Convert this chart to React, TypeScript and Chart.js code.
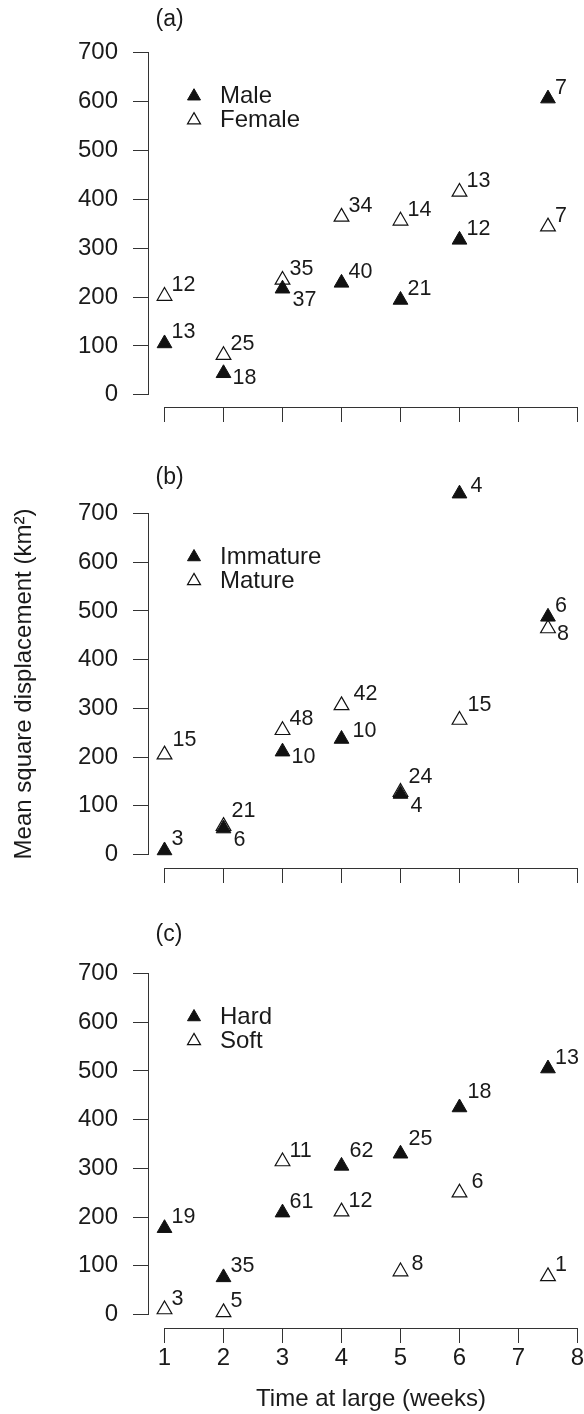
import React, { useEffect, useRef } from 'react';
import { Chart, registerables } from 'chart.js';

Chart.register(...registerables);

const FONT = '"Liberation Sans", Arial, Helvetica, sans-serif';
const TEXT = '#1a1a1a';
const AXIS = '#333333';
Chart.defaults.font.family = FONT;
Chart.defaults.color = TEXT;

// ---------- data ----------
const weeks = [1, 2, 3, 4, 5, 6, 7.5];
const xTickValues = [1, 2, 3, 4, 5, 6, 7, 8];
const yTickValues = [0, 100, 200, 300, 400, 500, 600, 700];

// Panel (a)
const maleMsd = [105, 44, 217, 229, 194, 317, 606];
const femaleMsd = [202, 81, 235, 364, 356, 415, 344];
const maleN = [13, 18, 37, 40, 21, 12, 7];
const femaleN = [12, 25, 35, 34, 14, 13, 7];
const maleLabelSide = ['ne', 'se', 'sse', 'ne', 'ne', 'ne', 'ne'];
const femaleLabelSide = ['ne', 'ne', 'ne', 'ne', 'ne', 'ne', 'ne'];

// Panel (b)
const immatureMsd = [8, 53, 211, 237, 124, 741, 488];
const matureMsd = [205, 58, 255, 306, 128, 276, 464];
const immatureN = [3, 6, 10, 10, 4, 4, 6];
const matureN = [15, 21, 48, 42, 24, 15, 8];
const immatureLabelSide = ['ne', 'sse', 'se', 'e', 'sse', 'e', 'ne'];
const matureLabelSide = ['nne', 'nne', 'ne', 'nee', 'nne', 'nne', 'se'];

// Panel (c)
const hardMsd = [177, 76, 209, 305, 330, 425, 505];
const softMsd = [10, 4, 314, 211, 88, 250, 78];
const hardN = [19, 35, 61, 62, 25, 18, 13];
const softN = [3, 5, 11, 12, 8, 6, 1];
const hardLabelSide = ['ne', 'ne', 'ne', 'nne', 'nne', 'nne', 'ne'];
const softLabelSide = ['ne', 'ne', 'ne', 'ne', 'e', 'nee', 'ne'];

const legendRowValues = [614, 565];

const X_TITLE = 'Time at large (weeks)';
const Y_TITLE = 'Mean square displacement (km\u00B2)';

// ---------- styling ----------
const SIDE_OFFSET: Record<string, [number, number]> = {
  ne: [7, -5],
  nne: [8, -9],
  nee: [12, -5],
  e: [11, -2],
  se: [9, 11],
  sse: [10, 17.5],
};

type Series = { name: string; values: number[]; counts: number[]; sides: string[]; filled: boolean };
type PanelSpec = {
  letter: string;
  top: number;
  height: number;
  padTop: number;
  padBottom: number;
  xAxisHeight: number;
  yMin: number;
  showX: boolean;
  showYTitle: boolean;
  letterBaseline: number;
  series: Series[];
};

const panels: PanelSpec[] = [
  {
    letter: '(a)', top: 0, height: 440, padTop: 39, padBottom: 18, xAxisHeight: 15, yMin: -25,
    showX: false, showYTitle: false, letterBaseline: 26,
    series: [
      { name: 'Male', values: maleMsd, counts: maleN, sides: maleLabelSide, filled: true },
      { name: 'Female', values: femaleMsd, counts: femaleN, sides: femaleLabelSide, filled: false },
    ],
  },
  {
    letter: '(b)', top: 440, height: 460, padTop: 60, padBottom: 17, xAxisHeight: 15, yMin: -28,
    showX: false, showYTitle: true, letterBaseline: 44,
    series: [
      { name: 'Immature', values: immatureMsd, counts: immatureN, sides: immatureLabelSide, filled: true },
      { name: 'Mature', values: matureMsd, counts: matureN, sides: matureLabelSide, filled: false },
    ],
  },
  {
    letter: '(c)', top: 900, height: 514, padTop: 60, padBottom: 0, xAxisHeight: 86, yMin: -28,
    showX: true, showYTitle: false, letterBaseline: 41,
    series: [
      { name: 'Hard', values: hardMsd, counts: hardN, sides: hardLabelSide, filled: true },
      { name: 'Soft', values: softMsd, counts: softN, sides: softLabelSide, filled: false },
    ],
  },
];

const CANVAS_W = 610;

function drawTriangle(ctx: CanvasRenderingContext2D, x: number, y: number, r: number, filled: boolean) {
  ctx.beginPath();
  ctx.moveTo(x, y - r);
  ctx.lineTo(x + 0.866 * r, y + 0.5 * r);
  ctx.lineTo(x - 0.866 * r, y + 0.5 * r);
  ctx.closePath();
  if (filled) {
    ctx.fillStyle = '#111';
    ctx.fill();
  }
  ctx.strokeStyle = '#111';
  ctx.lineWidth = filled ? 1 : 1.2;
  ctx.stroke();
}

function makeDecor(spec: PanelSpec) {
  return {
    id: 'rDecor',
    beforeDatasetsDraw(chart: any) {
      const { ctx, chartArea, scales } = chart;
      const xs = scales.x;
      const ys = scales.y;
      const al = (p: number) => Math.round(p - 0.5) + 0.5;
      ctx.save();
      ctx.strokeStyle = AXIS;
      ctx.lineWidth = 1;
      ctx.beginPath();
      const yx = Math.round(chartArea.left) + 0.5;
      ctx.moveTo(yx, al(ys.getPixelForValue(yTickValues[yTickValues.length - 1])) - 0.5);
      ctx.lineTo(yx, al(ys.getPixelForValue(yTickValues[0])) + 0.5);
      const xy = Math.round(chartArea.bottom) + 0.5;
      ctx.moveTo(al(xs.getPixelForValue(xTickValues[0])) - 0.5, xy);
      ctx.lineTo(al(xs.getPixelForValue(xTickValues[xTickValues.length - 1])) + 0.5, xy);
      ctx.stroke();
      ctx.restore();
    },
    afterDatasetsDraw(chart: any) {
      const { ctx } = chart;
      ctx.save();
      ctx.font = `21.5px ${FONT}`;
      ctx.fillStyle = TEXT;
      ctx.textAlign = 'left';
      ctx.textBaseline = 'alphabetic';
      chart.data.datasets.forEach((ds: any, di: number) => {
        const meta = chart.getDatasetMeta(di);
        meta.data.forEach((el: any, i: number) => {
          const off = SIDE_OFFSET[ds.sides[i]] || SIDE_OFFSET.ne;
          ctx.fillText(String(ds.counts[i]), el.x + off[0], el.y + off[1]);
        });
      });
      ctx.restore();
    },
    afterDraw(chart: any) {
      const { ctx, chartArea, scales } = chart;
      const ys = scales.y;
      ctx.save();
      // legend
      chart.data.datasets.forEach((ds: any, i: number) => {
        const cy = ys.getPixelForValue(legendRowValues[i]);
        drawTriangle(ctx, chartArea.left + 46, cy + 1.5, 7.5, ds.filledMarker);
        ctx.font = `24px ${FONT}`;
        ctx.fillStyle = TEXT;
        ctx.textAlign = 'left';
        ctx.textBaseline = 'alphabetic';
        ctx.fillText(ds.label, chartArea.left + 72, cy + 8.6);
      });
      // panel letter
      ctx.font = `23px ${FONT}`;
      ctx.fillStyle = TEXT;
      ctx.textAlign = 'left';
      ctx.textBaseline = 'alphabetic';
      ctx.fillText(spec.letter, 155.5, spec.letterBaseline);
      ctx.restore();
    },
  };
}

function Panel({ spec }: { spec: PanelSpec }) {
  const ref = useRef<HTMLCanvasElement>(null);
  useEffect(() => {
    if (!ref.current) return;
    const datasets = spec.series.map((s) => ({
      label: s.name,
      data: weeks.map((w, i) => ({ x: w, y: s.values[i] })),
      pointStyle: 'triangle',
      pointRadius: 8.5,
      pointHoverRadius: 8.5,
      backgroundColor: s.filled ? '#111' : 'rgba(255,255,255,0)',
      borderColor: '#111',
      borderWidth: s.filled ? 1 : 1.2,
      showLine: false,
      clip: false,
      counts: s.counts,
      sides: s.sides,
      filledMarker: s.filled,
    }));
    const chart = new Chart(ref.current, {
      type: 'scatter',
      data: { datasets } as any,
      options: {
        animation: false,
        responsive: false,
        devicePixelRatio: 1,
        events: [],
        layout: { padding: { left: 0, right: 16, top: spec.padTop, bottom: spec.padBottom } },
        plugins: {
          legend: { display: false },
          tooltip: { enabled: false },
          title: { display: false },
        },
        scales: {
          x: {
            type: 'linear',
            position: 'bottom',
            min: 0.72,
            max: 8.28,
            afterBuildTicks: (s: any) => {
              s.ticks = xTickValues.map((v) => ({ value: v }));
            },
            afterFit: (s: any) => {
              s.height = spec.xAxisHeight;
            },
            grid: { display: true, drawOnChartArea: false, drawTicks: true, tickLength: 15, color: AXIS, lineWidth: 1 },
            border: { display: false },
            ticks: {
              display: spec.showX,
              padding: 1,
              autoSkip: false,
              maxRotation: 0,
              font: { size: 24, family: FONT },
              color: TEXT,
            },
            title: {
              display: spec.showX,
              text: X_TITLE,
              font: { size: 24, family: FONT },
              color: TEXT,
              padding: { top: 0, bottom: 0 },
            },
          },
          y: {
            type: 'linear',
            position: 'left',
            min: spec.yMin,
            max: 728,
            afterBuildTicks: (s: any) => {
              s.ticks = yTickValues.map((v) => ({ value: v }));
            },
            afterFit: (s: any) => {
              s.width = 148;
            },
            grid: { display: true, drawOnChartArea: false, drawTicks: true, tickLength: 15, color: AXIS, lineWidth: 1 },
            border: { display: false },
            ticks: {
              padding: 15,
              font: { size: 24, family: FONT },
              color: TEXT,
            },
            title: {
              display: spec.showYTitle,
              text: Y_TITLE,
              font: { size: 24, family: FONT },
              color: TEXT,
              padding: { top: 10, bottom: 0 },
            },
          },
        },
      } as any,
      plugins: [makeDecor(spec)],
    });
    return () => chart.destroy();
  }, [spec]);
  return (
    <canvas
      ref={ref}
      width={CANVAS_W}
      height={spec.height}
      style={{ position: 'absolute', left: 0, top: spec.top, width: CANVAS_W, height: spec.height, display: 'block' }}
    />
  );
}

export default function App() {
  return (
    <div
      style={{
        position: 'absolute',
        left: 0,
        top: 0,
        width: 584,
        height: 1414,
        overflow: 'hidden',
        background: '#ffffff',
      }}
    >
      {panels.map((p) => (
        <Panel key={p.letter} spec={p} />
      ))}
    </div>
  );
}
